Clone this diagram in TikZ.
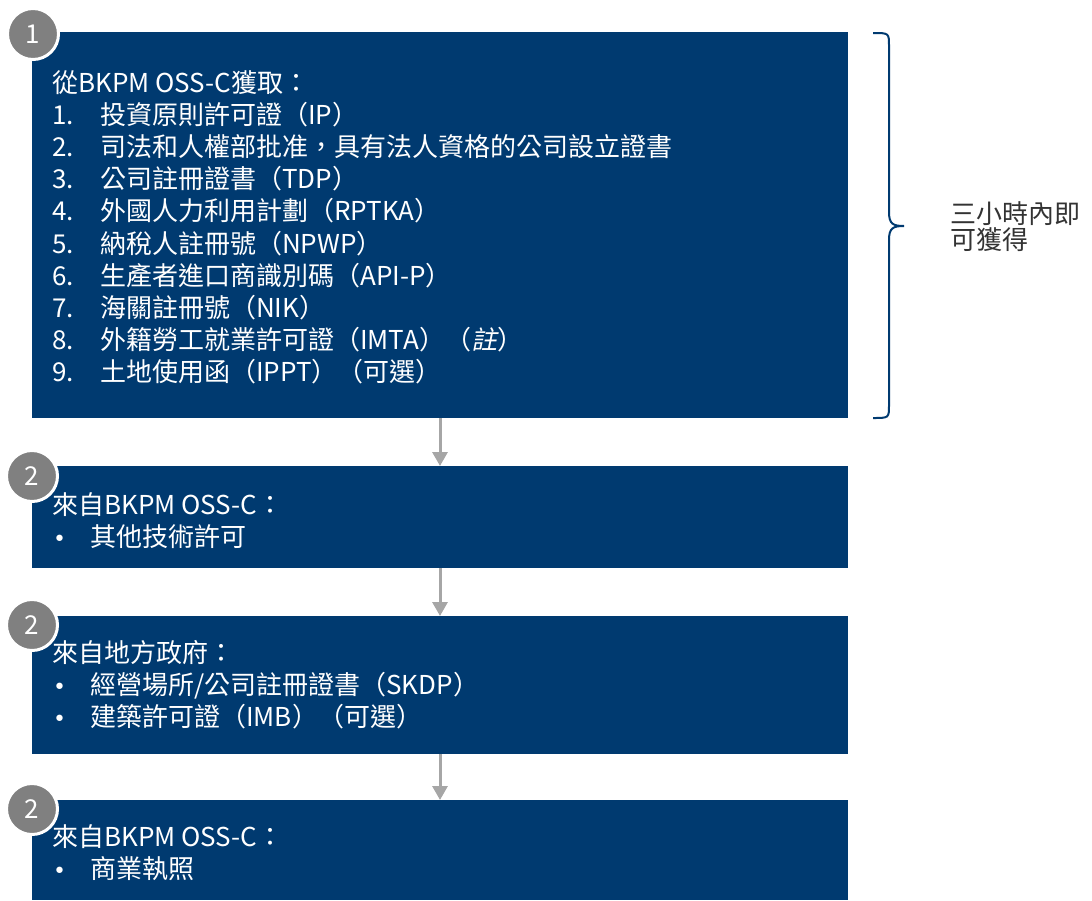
\documentclass[tikz,border=0pt]{standalone}
\usepackage{fontspec}
\setmainfont{Noto Sans CJK TC}
\newfontfamily\cjkslant[FakeSlant=0.2]{Noto Sans CJK TC}
\newfontfamily\dvsans{DejaVu Sans}
\newcommand{\bul}{\hspace*{1pt}{\dvsans\fontsize{22}{22}\selectfont •}}
\usetikzlibrary{arrows.meta}
\definecolor{boxblue}{RGB}{0,58,112}
\definecolor{circgray}{RGB}{128,128,128}
\definecolor{arrgray}{RGB}{166,166,166}
\begin{document}
\begin{tikzpicture}[x=1pt,y=-1pt,
  box/.style={fill=boxblue, draw=none, minimum width=816pt, inner sep=0pt, outer sep=0pt, anchor=north west},
  num/.style={circle, fill=circgray, draw=white, line width=3pt, minimum size=51pt, inner sep=0pt, text=white, font=\fontsize{26}{26}\selectfont},
  txt/.style={text=white, inner sep=0pt, anchor=base west, font=\fontsize{26}{32.2}\selectfont},
  arr/.style={draw=arrgray, line width=3pt, -{Triangle[width=15pt,length=14pt]}},
  brace/.style={draw=boxblue, line width=2pt}
]
\useasboundingbox (0,0) rectangle (1092,900);
% boxes
\node[box, minimum height=386pt] (b1) at (32,32) {};
\node[box, minimum height=102pt] (b2) at (32,466) {};
\node[box, minimum height=138pt] (b3) at (32,616) {};
\node[box, minimum height=100pt] (b4) at (32,800) {};
% arrows
\draw[arr] (b1.south) -- (b2.north);
\draw[arr] (b2.south) -- (b3.north);
\draw[arr] (b3.south) -- (b4.north);
% circles
\node[num] (c1) at (33,34) {1};
\node[num] (c2) at (32,476) {2};
\node[num] (c3) at (32,625) {2};
\node[num] (c4) at (32,809) {2};
% texts
\node[txt] (t1) at (52,92) {\begin{tabular}[t]{@{}p{48pt}@{}l@{}}
\multicolumn{2}{@{}l@{}}{從BKPM OSS-C獲取：}\\
1. & 投資原則許可證（IP）\\
2. & 司法和人權部批准，具有法人資格的公司設立證書\\
3. & 公司註冊證書（TDP）\\
4. & 外國人力利用計劃（RPTKA）\\
5. & 納稅人註冊號（NPWP）\\
6. & 生產者進口商識別碼（API-P）\\
7. & 海關註冊號（NIK）\\
8. & 外籍勞工就業許可證（IMTA）（{\cjkslant 註}）\\
9. & 土地使用函（IPPT）（可選）
\end{tabular}};
\node[txt] (t2) at (52,514) {\begin{tabular}[t]{@{}p{38pt}@{}l@{}}
\multicolumn{2}{@{}l@{}}{來自BKPM OSS-C：}\\
\bul & 其他技術許可
\end{tabular}};
\node[txt] (t3) at (52,662) {\begin{tabular}[t]{@{}p{38pt}@{}l@{}}
\multicolumn{2}{@{}l@{}}{來自地方政府：}\\
\bul & 經營場所/公司註冊證書（SKDP）\\
\bul & 建築許可證（IMB）（可選）
\end{tabular}};
\node[txt] (t4) at (52,846) {\begin{tabular}[t]{@{}p{38pt}@{}l@{}}
\multicolumn{2}{@{}l@{}}{來自BKPM OSS-C：}\\
\bul & 商業執照
\end{tabular}};
% brace
\draw[brace] (873,33) .. controls (889,33) .. (889,46) -- (889,212)
  .. controls (889,224) and (893,226) .. (904,226)
  .. controls (893,226) and (889,228) .. (889,240) -- (889,405)
  .. controls (889,418) .. (873,418);
\node[anchor=base west, inner sep=0pt, align=left, text=black!80, font=\fontsize{26}{26}\selectfont] (side) at (950,249) {三小時內即\\可獲得};
\end{tikzpicture}
\end{document}
